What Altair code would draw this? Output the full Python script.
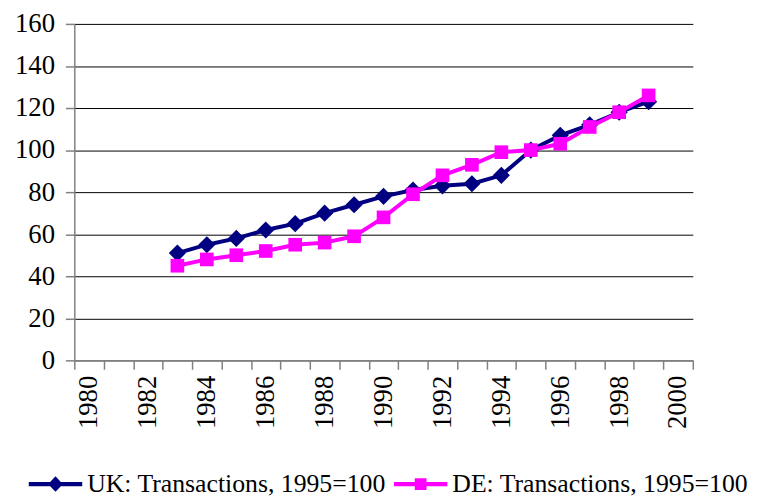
import altair as alt
import pandas as pd

years = list(range(1983, 2000))
uk = [51, 55, 58, 62, 65, 70, 74, 78, 81, 83, 84, 88, 100, 107, 112, 118, 123]
de = [45, 48, 50, 52, 55, 56, 59, 68, 79, 88, 93, 99, 100, 103, 111, 118, 126]
series = ["UK: Transactions, 1995=100", "DE: Transactions, 1995=100"]
colors = ["#000080", "#FF00FF"]
axis_years = list(range(1980, 2001))
y_ticks = list(range(0, 161, 20))

df = pd.DataFrame({
    "year": years * 2,
    "value": uk + de,
    "series": [series[0]] * len(years) + [series[1]] * len(years),
})

FONT = "Liberation Serif, DejaVu Serif, serif"
FS = 27

# legend symbols: line with marker (unit coordinates, scaled by symbol size)
uk_sym = ("M-1,-0.08L-0.2,-0.08L0,-0.29L0.2,-0.08L1,-0.08L1,0.08"
          "L0.2,0.08L0,0.29L-0.2,0.08L-1,0.08Z")
de_sym = ("M-1,-0.08L-0.22,-0.08L-0.22,-0.22L0.22,-0.22L0.22,-0.08L1,-0.08"
          "L1,0.08L0.22,0.08L0.22,0.22L-0.22,0.22L-0.22,0.08L-1,0.08Z")

x = alt.X(
    "year:O",
    scale=alt.Scale(domain=axis_years, paddingInner=0, paddingOuter=0),
    axis=alt.Axis(
        title=None, tickBand="extent", labelAngle=270, labelAlign="right",
        labelBaseline="middle", labelOverlap=False, labelPadding=6,
        labelFont=FONT, labelFontSize=FS, labelColor="#000000",
        labelExpr="datum.value % 2 == 0 ? datum.label : ''", grid=False,
    ),
)
y = alt.Y(
    "value:Q",
    scale=alt.Scale(domain=[0, 160], nice=False),
    axis=alt.Axis(title=None, values=y_ticks, grid=True, gridColor="#000000",
                  gridWidth=1, labelPadding=11, labelFont=FONT, labelFontSize=FS,
                  labelColor="#000000"),
)
color_scale = alt.Scale(domain=series, range=colors)
color_nol = alt.Color("series:N", scale=color_scale, legend=None)

base = alt.Chart(df)

leg = alt.Legend(
    title=None, orient="none", legendX=-46, legendY=438, direction="horizontal",
    labelFont=FONT, labelFontSize=26, labelColor="#000000", symbolSize=2916,
    symbolStrokeWidth=0, labelOffset=5, columnPadding=8,
    padding=0, labelLimit=500,
)
# legend provider layer first (no visible marks: its data is filtered out)
legend_layer = base.transform_filter("datum.value < 0").mark_point(
    filled=True, size=2916, opacity=1, strokeWidth=0
).encode(
    x=x, y=y,
    color=alt.Color("series:N", scale=color_scale, legend=leg),
    shape=alt.Shape("series:N", scale=alt.Scale(domain=series, range=[uk_sym, de_sym]), legend=leg),
)

layers = [legend_layer]
shapes = [("diamond", 300), ("square", 190)]
for i, s in enumerate(series):
    sub = base.transform_filter(alt.datum.series == s)
    layers.append(sub.mark_line(strokeWidth=4).encode(x=x, y=y, color=color_nol))
    layers.append(
        sub.mark_point(shape=shapes[i][0], size=shapes[i][1], filled=True,
                       opacity=1, strokeWidth=0).encode(x=x, y=y, color=color_nol)
    )

chart = alt.layer(*layers).properties(
    width=625, height=340,
    autosize=alt.AutoSizeParams(type="none"),
    padding={"left": 67, "top": 13.5, "right": 76, "bottom": 136},
).configure_view(stroke=None).configure_axis(
    labelFont=FONT, labelFontSize=FS, labelColor="#000000",
    domainColor="#808080", domainWidth=1.5, tickColor="#808080", tickWidth=1.5, tickSize=9,
).configure_legend(labelFont=FONT)

chart.save("out.html", embed_options={"renderer": "svg", "actions": False})
